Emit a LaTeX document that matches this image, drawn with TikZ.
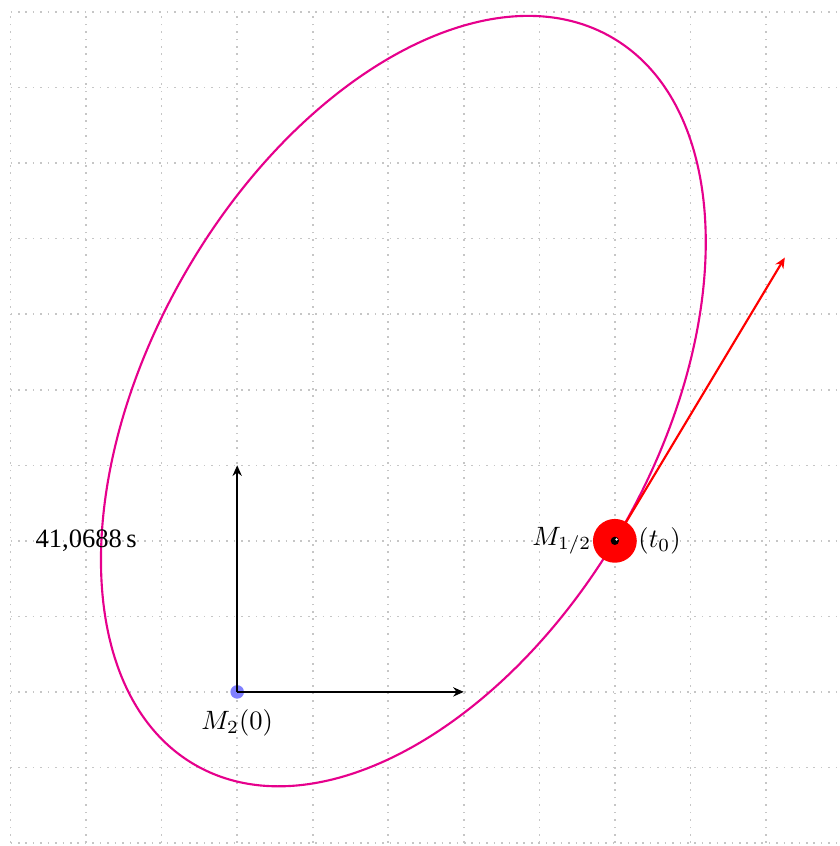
\documentclass[tikz,border=0pt]{standalone}
\usepackage{fontspec}
\setmainfont{Liberation Serif}
\usetikzlibrary{calc,arrows.meta}
\definecolor{orbit}{RGB}{230,0,140}
\begin{document}
\begin{tikzpicture}[>={Stealth[length=4pt,width=3.5pt]},line width=0.8pt]
  \useasboundingbox (-3.14,-2.04) rectangle (7.97,9.16);
  \draw[gray!45,line width=0.6pt,dash pattern=on 0.6pt off 2.2pt] (-3,-2) grid (8,9);
  \coordinate (M2) at (0,0);
  \coordinate (X) at (3,0);
  \coordinate (Y) at (0,3);
  \coordinate (C) at (2.2,3.85);
  \coordinate (M) at (5,2);
  \coordinate (V) at (7.25,5.75);
  \draw[orbit,rotate around={60.3:(C)}] (C) ellipse (5.55 and 3.35);
  \fill[blue!50] (M2) circle(0.09);
  \draw[->] (M2)--(X);
  \draw[->] (M2)--(Y);
  \draw[red,->] (M)--(V);
  \node (m12) at (M) [circle,fill=red,minimum size=0.58cm,inner sep=0pt,
    label={[label distance=-3.5pt]left:$M_{1/2}$},
    label={[label distance=-3.5pt]right:$(t_0)$}] {};
  \fill (m12.center) circle(0.055);
  \fill[white] ($(m12.center)+(0.022,0.018)$) circle(0.017);
  \node (m2lab) [below=0.1cm] at (M2) {$M_2(0)$};
  \node (time) at (-2,2) {41,0688\,s};
\end{tikzpicture}
\end{document}
